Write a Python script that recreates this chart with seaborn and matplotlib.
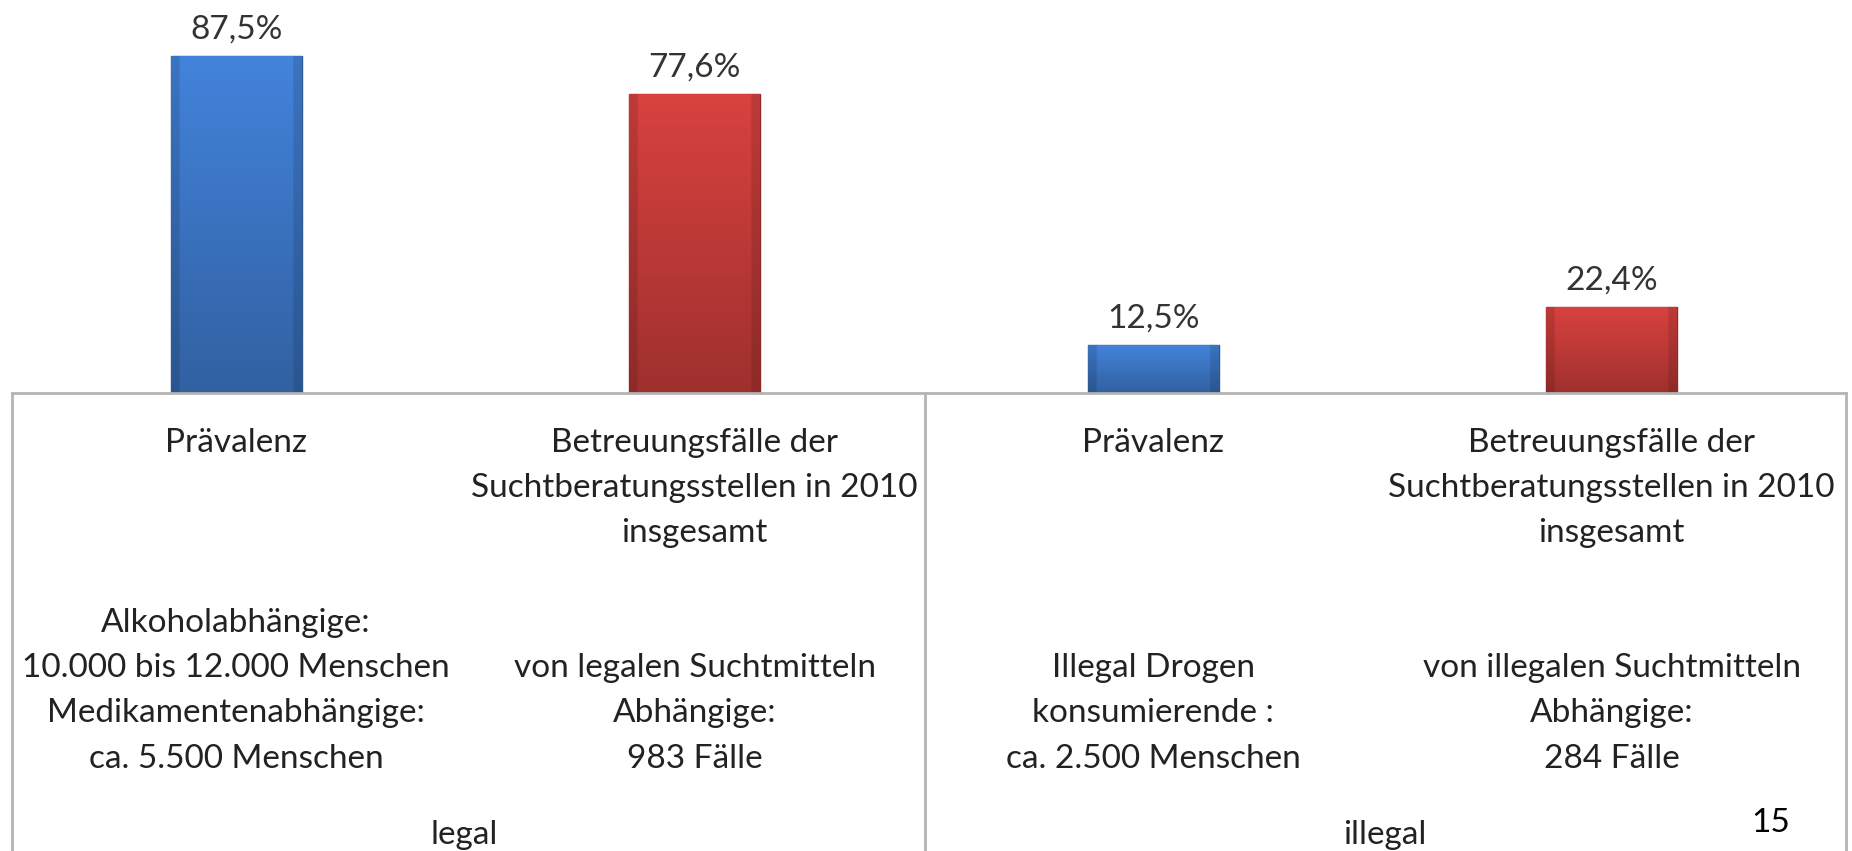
import numpy as np
import pandas as pd
import seaborn as sns
import matplotlib.pyplot as plt
from matplotlib.transforms import blended_transform_factory
from matplotlib.colors import to_rgb

# ---------- data ----------
bar_ids = ['legal_prev', 'legal_betr', 'illegal_prev', 'illegal_betr']
series = ['Prävalenz', 'Betreuung', 'Prävalenz', 'Betreuung']
values = [87.5, 77.6, 12.5, 22.4]
tick_labels = [
    'Prävalenz\n\n\n\nAlkoholabhängige:\n10.000 bis 12.000 Menschen\nMedikamentenabhängige:\nca. 5.500 Menschen',
    'Betreuungsfälle der\nSuchtberatungsstellen in 2010\ninsgesamt\n\n\nvon legalen Suchtmitteln\nAbhängige:\n983 Fälle',
    'Prävalenz\n\n\n\n\nIllegal Drogen\nkonsumierende :\nca. 2.500 Menschen',
    'Betreuungsfälle der\nSuchtberatungsstellen in 2010\ninsgesamt\n\n\nvon illegalen Suchtmitteln\nAbhängige:\n284 Fälle',
]
groups = ['legal', 'illegal']
page_no = '15'

df = pd.DataFrame({'id': bar_ids, 'serie': series, 'wert': values})
palette = {'Prävalenz': '#3f7ccf', 'Betreuung': '#cc3e3b'}

sns.set_style('white')
plt.rcParams['font.family'] = ['Lato', 'DejaVu Sans']
FS = 24

fig = plt.figure(figsize=(18.52, 8.51), dpi=100)
W, H = 1852, 851
ax = fig.add_axes([12 / W, (H - 393) / H, (1846 - 12) / W, 393 / H])

sns.barplot(data=df, x='id', y='wert', hue='serie', palette=palette,
            dodge=False, width=0.285, legend=False, ax=ax, saturation=1)

# bevelled / gradient look on the bars
for p in ax.patches:
    x0, y0 = p.get_x(), p.get_y()
    w, h = p.get_width(), p.get_height()
    base = np.array(to_rgb(p.get_facecolor()))
    ny, nx = 100, 60
    yy = np.linspace(1, 0, ny)[:, None]
    xx = np.linspace(0, 1, nx)[None, :]
    shade = 0.78 + 0.28 * yy
    side = 1 - 0.12 * (np.abs(xx - 0.5) > 0.44)
    img = np.clip(base[None, None, :] * (shade * side)[:, :, None], 0, 1)
    im = ax.imshow(img, extent=[x0, x0 + w, y0, y0 + h], aspect='auto',
                   origin='upper', zorder=p.get_zorder() + 0.1)
    im.set_clip_path(p)
    p.set_edgecolor(base * 0.7)
    p.set_linewidth(1.0)

ax.set_xlim(-0.489, 3.511)
ax.set_ylim(0, 101.9)

for c in ax.containers:
    ax.bar_label(c, labels=[f'{v:.1f}%'.replace('.', ',') for v in c.datavalues],
                 padding=8, fontsize=FS, color='#333333')

ax.set_yticks([])
ax.set_xlabel('')
ax.set_ylabel('')
ax.set_xticks(range(len(bar_ids)))
ax.set_xticklabels(tick_labels, fontsize=FS, color='#222222', linespacing=1.63,
                   ha='center', va='top')
ax.tick_params(axis='x', length=0, pad=25)

for s in ['top', 'left', 'right']:
    ax.spines[s].set_visible(False)
ax.spines['bottom'].set_color('#b4b4b4')
ax.spines['bottom'].set_linewidth(2)

# frame below the bars (axes fractions)
for xf in [0.0, (925 - 12) / (1846 - 12), 1.0]:
    ax.plot([xf, xf], [0, -1.2], transform=ax.transAxes, clip_on=False,
            color='#b4b4b4', lw=2)

tr = blended_transform_factory(ax.transAxes, ax.transAxes)
for xf, g in zip([(464 - 12) / 1834, (1385 - 12) / 1834], groups):
    ax.text(xf, -1.124, g, transform=tr, ha='center', va='center',
            fontsize=FS, color='#222222')

fig.text(1771 / W, 1 - 823 / H, page_no, ha='center', va='center',
         fontsize=FS, color='black')

fig.savefig('out.png', dpi=100)
